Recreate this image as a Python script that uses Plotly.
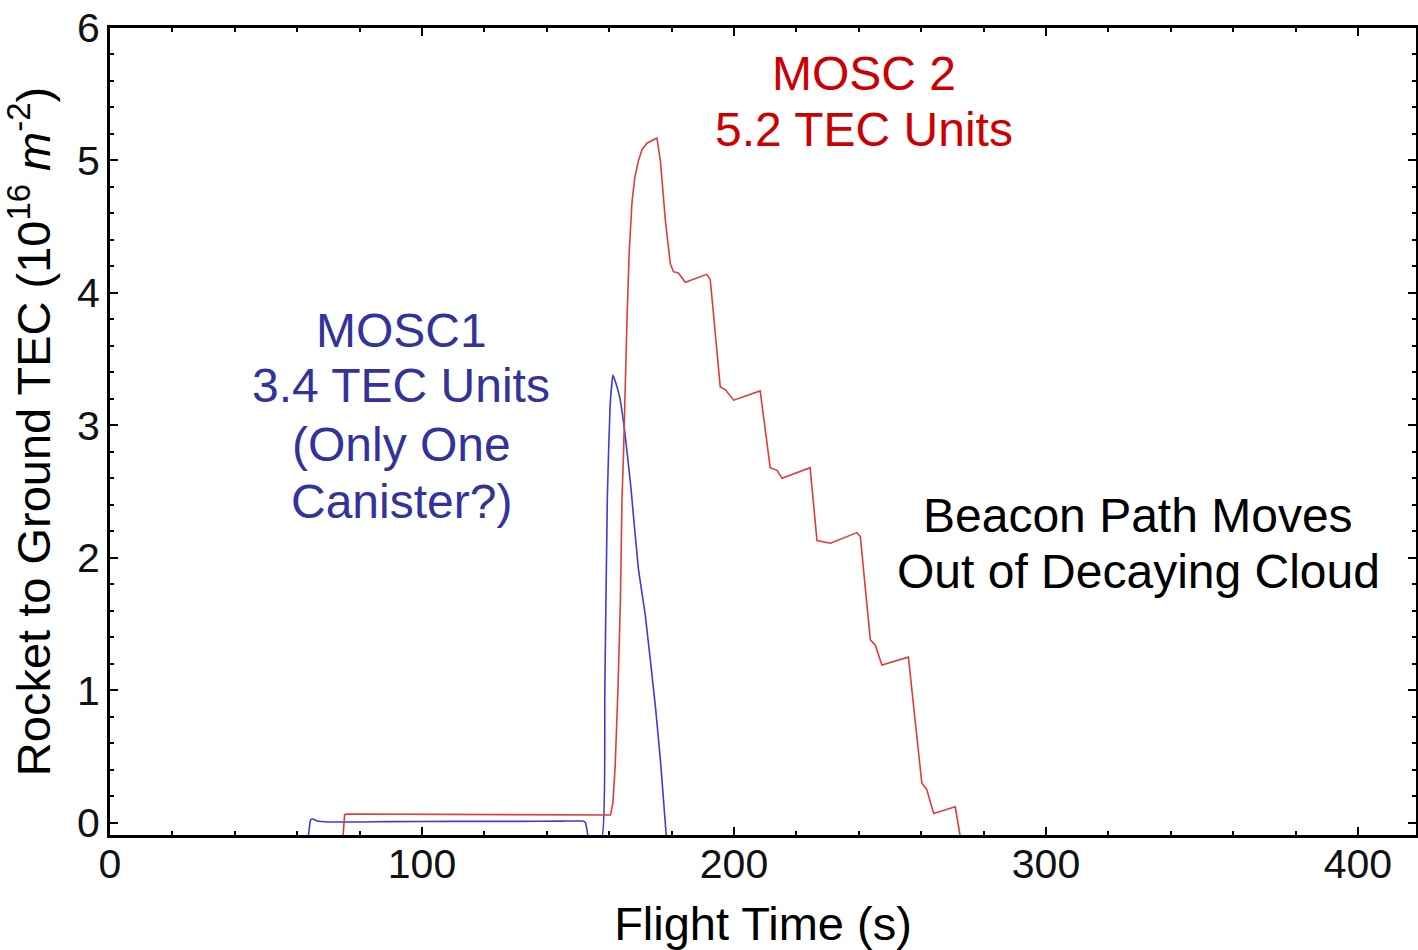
import plotly.graph_objects as go

# MOSC1 (blue) series
mosc1_t = [63.6, 64.3, 65.0, 66.5, 70.0, 90.0, 110.0, 130.0, 145.0, 151.5, 152.4, 153.3, 155.0,
           157.7, 158.6, 159.4, 160.3, 161.2, 162.0, 163.3, 165.0, 167.0, 169.3, 171.6, 174.8,
           176.5, 178.3]
mosc1_tec = [-0.1, 0.02, 0.028, 0.012, 0.005, 0.008, 0.01, 0.01, 0.012, 0.012, 0.0, -0.1, -0.1,
             -0.1, 1.0, 2.45, 3.15, 3.38, 3.33, 3.22, 2.95, 2.52, 1.93, 1.56, 0.88,
             0.45, -0.1]

# MOSC 2 (red) series
mosc2_t = [74.7, 75.2, 76.0, 100.0, 130.0, 160.4, 161.2, 161.9, 162.8, 163.6, 164.1, 164.6,
           165.7, 166.4, 167.3, 168.2, 169.4, 170.5, 172.1, 173.5, 175.3, 176.4, 178.0,
           179.6, 180.6, 182.2, 184.4, 191.3, 192.4, 195.6, 197.2, 199.9, 208.4, 211.6,
           213.8, 215.4, 224.4, 226.6, 230.9, 239.4, 240.5, 243.7, 245.3, 247.4, 255.9,
           260.2, 261.8, 264.0, 270.9, 272.5]
mosc2_tec = [-0.1, 0.06, 0.065, 0.062, 0.06, 0.058, 0.15, 0.42, 1.0, 1.68, 2.44, 2.79,
             3.79, 4.3, 4.68, 4.87, 5.0, 5.08, 5.13, 5.15, 5.17, 5.0, 4.55,
             4.22, 4.16, 4.15, 4.08, 4.14, 4.10, 3.29, 3.27, 3.19, 3.26, 2.68,
             2.66, 2.60, 2.68, 2.13, 2.11, 2.19, 2.16, 1.38, 1.34, 1.19, 1.25,
             0.30, 0.25, 0.07, 0.12, -0.1]

x_ticks = [0, 100, 200, 300, 400]
y_ticks = [0, 1, 2, 3, 4, 5, 6]

FONT = "Arial, 'Liberation Sans', sans-serif"

fig = go.Figure()
fig.add_trace(go.Scatter(x=mosc1_t, y=mosc1_tec, mode="lines",
                         line=dict(color="#3c3cd6", width=1.6, shape="spline", smoothing=0.4),
                         name="MOSC1"))
fig.add_trace(go.Scatter(x=mosc2_t, y=mosc2_tec, mode="lines",
                         line=dict(color="#e03c3c", width=1.6), name="MOSC 2"))

axis_common = dict(
    showgrid=False, zeroline=False, showline=True, linecolor="black", linewidth=3,
    mirror="ticks", ticks="inside", ticklen=8, tickwidth=2, tickcolor="black",
    tickfont=dict(family=FONT, size=41, color="#111111"),
)

fig.update_xaxes(
    range=[0, 418.6], tickvals=x_ticks, ticktext=[str(v) for v in x_ticks],
    minor=dict(ticks="inside", ticklen=4, tickwidth=2, tickcolor="black", dtick=20, tick0=0),
    title=dict(text="Flight Time (s)", font=dict(family=FONT, size=47, color="black"), standoff=22),
    ticklabelstandoff=-9,
    **axis_common)
fig.update_yaxes(
    range=[-0.093, 6.0], tickvals=y_ticks, ticktext=[str(v) for v in y_ticks],
    minor=dict(ticks="inside", ticklen=4, tickwidth=2, tickcolor="black", dtick=0.2, tick0=0),
    title=dict(text="Rocket to Ground TEC (10<sup>16</sup> <i>m</i><sup>-2</sup>)",
               font=dict(family=FONT, size=47, color="black"), standoff=13),
    ticklabelstandoff=-1,
    **axis_common)

annotations = [
    ("MOSC 2", 241.7, 5.653, "#cc0000"),
    ("5.2 TEC Units", 241.6, 5.23, "#cc0000"),
    ("MOSC1", 93.4, 3.716, "#333399"),
    ("3.4 TEC Units", 93.4, 3.299, "#333399"),
    ("(Only One", 93.4, 2.852, "#333399"),
    ("Canister?)", 93.4, 2.424, "#333399"),
    ("Beacon Path Moves", 329.4, 2.323, "black"),
    ("Out of Decaying Cloud", 329.5, 1.897, "black"),
]
for text, ax_, ay_, col in annotations:
    fig.add_annotation(x=ax_, y=ay_, xref="x", yref="y", text=text, showarrow=False,
                       xanchor="center", yanchor="middle",
                       font=dict(family=FONT, size=48, color=col))

fig.update_layout(
    width=1418, height=950,
    margin=dict(l=110, r=2, t=28, b=115, autoexpand=False),
    paper_bgcolor="white", plot_bgcolor="white",
    showlegend=False,
)

fig.write_html("out.html")
